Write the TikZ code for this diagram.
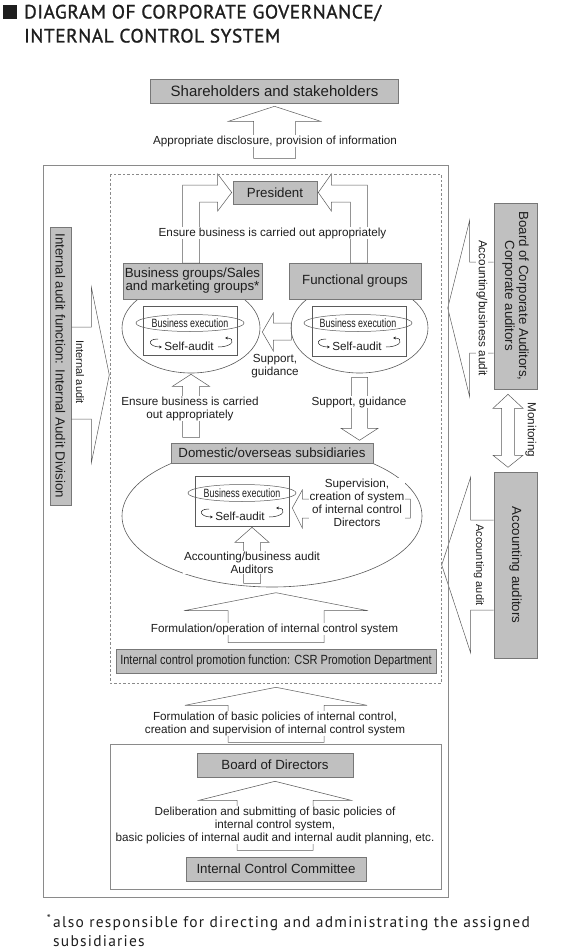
\documentclass[tikz,border=0pt]{standalone}
\usepackage{fontspec}
\setmainfont{Liberation Sans}
\newfontfamily\dinfont{PT Sans}[LetterSpace=8]
\newfontfamily\headfont{PT Sans}[LetterSpace=3,FakeBold=1.2]
\newfontfamily\narrowfont{Liberation Sans}[FakeStretch=0.83]
\newfontfamily\execfont{Liberation Sans}[FakeStretch=0.74]
\usetikzlibrary{positioning,shapes.geometric,arrows.meta}
\definecolor{ink}{HTML}{1E1E1E}
\definecolor{boxgray}{HTML}{C0C0C0}
\definecolor{boxline}{HTML}{777777}
\definecolor{arrline}{HTML}{5A5A5A}
\definecolor{frameline}{HTML}{8A8A8A}

\begin{document}
\begin{tikzpicture}[x=1pt,y=-1pt,
        box/.style={draw=boxline,fill=boxgray,line width=0.6pt,inner sep=0pt,text=ink,align=center,
            font=\fontsize{13.3}{13.5}\selectfont},
        oval/.style={ellipse,draw=arrline,line width=0.6pt,inner sep=0pt},
        selfbox/.style={draw=arrline,line width=0.6pt,inner sep=0pt,minimum width=94pt},
        execoval/.style={ellipse,draw=arrline,line width=0.5pt,inner sep=0pt,minimum height=17pt,
            text=ink,font=\execfont\fontsize{12}{12}\selectfont},
        blk/.style={draw=arrline,line width=0.5pt,line join=miter},
        lbl/.style={font=\fontsize{11.7}{13}\selectfont,text=ink,align=center,inner sep=1pt},
        wlbl/.style={lbl,fill=white},
        swoosh/.style={draw=ink,line width=0.5pt,-{Stealth[length=3pt,width=2.8pt]}},
        frame/.style={draw=frameline,line width=0.7pt}]
    \useasboundingbox (0,0) rectangle (580,950);

    % title
    \node[fill=ink,minimum size=14pt,inner sep=0pt] (bullet) at (10,12) {};
    \node[anchor=base west,inner sep=0pt,text=ink,font=\headfont\fontsize{19.3}{24}\selectfont] (title1) at (24,18.5) {DIAGRAM OF CORPORATE GOVERNANCE/};
    \node[anchor=base west,inner sep=0pt,text=ink,font=\headfont\fontsize{19.3}{24}\selectfont] (title2) at (24,42.5) {INTERNAL CONTROL SYSTEM};

    % ellipses first, the boxes cover their tops
    \node[oval,minimum width=138pt,minimum height=90pt] (ovlL) at (191,328) {};
    \node[oval,minimum width=137pt,minimum height=90pt] (ovlR) at (359.5,328) {};
    \node[oval,minimum width=300pt,minimum height=142pt] (ovlS) at (272,516) {};

    \node[box,minimum width=248pt,minimum height=24pt,font=\fontsize{15}{15}\selectfont] (share) at (274.5,91) {Shareholders and stakeholders};
    \node[box,minimum width=84pt,minimum height=23pt] (pres) at (275,192.5) {President};
    \node[box,minimum width=139pt,minimum height=36pt,font=\fontsize{13.3}{13}\selectfont] (bizgrp) at (192.5,281) {Business groups/Sales\\and marketing groups*};
    \node[box,minimum width=132pt,minimum height=36pt] (fungrp) at (355,281) {Functional groups};
    \node[box,minimum width=202pt,minimum height=20pt] (subs) at (272,453) {Domestic/overseas subsidiaries};
    \node[box,minimum width=320pt,minimum height=24pt,font=\narrowfont\fontsize{13.3}{13.5}\selectfont] (csr) at (276,661) {Internal control promotion function: CSR Promotion Department};
    \node[box,minimum width=156pt,minimum height=24pt] (bod) at (275,765) {Board of Directors};
    \node[box,minimum width=180pt,minimum height=24pt] (icc) at (276,869) {Internal Control Committee};
    \node[box,rotate=-90,minimum width=278pt,minimum height=21pt] (iad) at (60.5,366) {Internal audit function: Internal Audit Division};
    \node[box,rotate=-90,minimum width=186pt,minimum height=43pt,font=\fontsize{13.3}{14}\selectfont] (bca) at (515.5,296) {Board of Corporate Auditors,\\Corporate auditors};
    \node[box,rotate=-90,minimum width=186pt,minimum height=43pt] (acc) at (515.5,565) {Accounting auditors};

    % self-audit loops
    \node[selfbox,minimum height=49pt] (inL) at (190,330.5) {};
    \node[selfbox,minimum height=50pt] (inR) at (359,331) {};
    \node[selfbox,minimum height=50pt] (inS) at (242,501) {};
    \node[execoval,minimum width=88pt] (exL) at (190,323) {Business execution};
    \node[execoval,minimum width=88pt] (exR) at (358,323) {Business execution};
    \node[execoval,minimum width=86pt] (exS) at (242,493) {Business execution};
    \node[lbl] (saL) at (189,346) {Self-audit};
    \node[lbl] (saR) at (357,346) {Self-audit};
    \node[lbl] (saS) at (240,516) {Self-audit};
    \foreach \s in {saL,saR,saS} {
        \draw[swoosh] ([shift={(-31,-7)}]\s.center) .. controls +(-12,0) and +(-13,0) .. ([shift={(-27,1)}]\s.center);
        \draw[swoosh] ([shift={(29,1)}]\s.center) .. controls +(16,0) and +(11,0) .. ([shift={(36,-8)}]\s.center);
    }

    % block arrows
    \draw[blk] ([shift={(0,3)}]share.south) -- ++(46,15) -- ++(-25,0) -- ++(0,37) -- ++(-42,0) -- ++(0,-37) -- ++(-25,0) -- cycle;
    \draw[blk] ([shift={(-1,0)}]pres.west) -- ++(-14,-18.5) -- ++(0,11) -- ++(-35,0) -- ++(0,78) -- ++(17,0) -- ++(0,-61) -- ++(18,0) -- ++(0,9) -- cycle;
    \draw[blk] ([shift={(1,0)}]pres.east) -- ++(13,-18.5) -- ++(0,11) -- ++(36,0) -- ++(0,78) -- ++(-17,0) -- ++(0,-61) -- ++(-19,0) -- ++(0,9) -- cycle;
    \draw[blk] ([shift={(2,4)}]ovlL.east) -- ++(11,-19) -- ++(0,10) -- ++(18,0) -- ++(0,17) -- ++(-18,0) -- ++(0,11) -- cycle;
    \draw[blk] ([shift={(0,1)}]ovlL.south) -- ++(18.5,12) -- ++(-10,0) -- ++(0,51) -- ++(-17,0) -- ++(0,-51) -- ++(-10,0) -- cycle;
    \draw[blk] ([shift={(-8,4)}]ovlR.south) -- ++(16,0) -- ++(0,51) -- ++(10.5,0) -- ++(-18.5,12) -- ++(-18.5,-12) -- ++(10.5,0) -- cycle;
    \draw[blk] ([shift={(3,7)}]inS.east) -- ++(10,-18) -- ++(0,9) -- ++(108,0) -- ++(0,19) -- ++(-108,0) -- ++(0,10) -- cycle;
    \draw[blk] ([shift={(10,1)}]inS.south) -- ++(17,15) -- ++(-8.5,0) -- ++(0,41) -- ++(-17,0) -- ++(0,-41) -- ++(-8.5,0) -- cycle;
    \draw[blk] ([shift={(0,-56)}]csr.north) -- ++(92,18) -- ++(-44,0) -- ++(0,32) -- ++(-96,0) -- ++(0,-32) -- ++(-44,0) -- cycle;
    \draw[blk] ([shift={(0,14)}]csr.south) -- ++(91,18) -- ++(-43,0) -- ++(0,37) -- ++(-96,0) -- ++(0,-37) -- ++(-43,0) -- cycle;
    \draw[blk] ([shift={(0,4)}]bod.south) -- ++(76,19) -- ++(-38,0) -- ++(0,50) -- ++(-76,0) -- ++(0,-50) -- ++(-38,0) -- cycle;
    \draw[blk] ([shift={(0,-39)}]iad.north) -- ++(20,0) -- ++(0,-40) -- ++(18,88) -- ++(-18,88) -- ++(0,-44) -- ++(-20,0);
    \draw[blk] ([shift={(0,-34)}]bca.south) -- ++(-24,0) -- ++(0,-42) -- ++(-22,88) -- ++(22,89) -- ++(0,-44) -- ++(24,0);
    \draw[blk] ([shift={(-7.5,5)}]bca.east) -- ++(15,14) -- ++(-8.5,0) -- ++(0,47) -- ++(8.5,0) -- ++(-15,12) -- ++(-15,-12) -- ++(8.5,0) -- ++(0,-47) -- ++(-8.5,0) -- cycle;
    \draw[blk] ([shift={(0,-45)}]acc.south) -- ++(-23,0) -- ++(0,-43) -- ++(-29,88) -- ++(29,88) -- ++(0,-43) -- ++(23,0);

    % labels
    \node[wlbl] (disclose) at (275,141) {Appropriate disclosure, provision of information};
    \node[wlbl] (ensureTop) at (272.5,233) {Ensure business is carried out appropriately};
    \node[lbl] (support) at (275,366) {Support,\\guidance};
    \node[wlbl] (ensureSub) at (190,408.5) {Ensure business is carried\\out appropriately};
    \node[wlbl] (supportDown) at (359,402) {Support, guidance};
    \node[wlbl] (supervise) at (357,503) {Supervision,\\creation of system\\of internal control\\Directors};
    \node[wlbl] (auditors) at (252,562.5) {Accounting/business audit\\Auditors};
    \node[wlbl] (formulate) at (274.5,629) {Formulation/operation of internal control system};
    \node[wlbl] (policies) at (275,723.5) {Formulation of basic policies of internal control,\\creation and supervision of internal control system};
    \node[wlbl,inner sep=0.5pt] (deliberate) at (275,825) {Deliberation and submitting of basic policies of\\internal control system,\\basic policies of internal audit and internal audit planning, etc.};
    \node[lbl,rotate=-90,font=\fontsize{11}{12}\selectfont] (intaudit) at (80,372) {Internal audit};
    \node[wlbl,rotate=-90] (acbusaudit) at (482,308) {Accounting/business audit};
    \node[lbl,rotate=-90] (monitor) at (531,430) {Monitoring};
    \node[lbl,rotate=-90,font=\fontsize{11}{12}\selectfont] (acaudit) at (479,565) {Accounting audit};

    % frames
    \draw[frame] (43,165) rectangle (448,897);
    \draw[frame,dash pattern=on 2.5pt off 2pt] (110,174) rectangle (441,683);
    \draw[frame] (110,744) rectangle (441,889);

    % footnote
    \node[anchor=base east,inner sep=0pt,text=ink,font=\dinfont\fontsize{11}{11}\selectfont] (star) at (51,922) {*};
    \node[anchor=base west,inner sep=0pt,text=ink,font=\dinfont\fontsize{15.5}{15.5}\selectfont] (note1) at (53,927) {also responsible for directing and administrating the assigned};
    \node[anchor=base west,inner sep=0pt,text=ink,font=\dinfont\fontsize{15.5}{15.5}\selectfont] (note2) at (53,946) {subsidiaries};
\end{tikzpicture}
\end{document}
